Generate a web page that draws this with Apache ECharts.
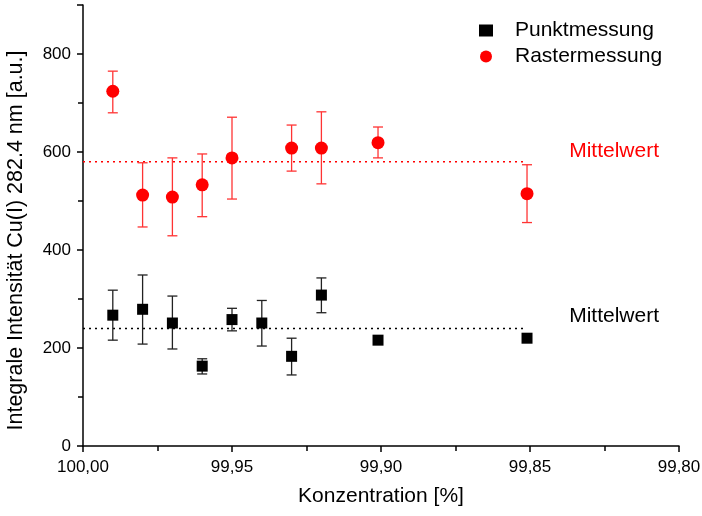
<!DOCTYPE html>
<html>
<head>
<meta charset="utf-8">
<script src="https://cdn.jsdelivr.net/npm/echarts@6/dist/echarts.min.js"></script>
<style>
html,body{margin:0;padding:0;background:#fff;}
#chart{width:702px;height:516px;}
</style>
</head>
<body>
<div id="chart"></div>
<script>
// Punktmessung (black squares)
let punktX=[99.99,99.98,99.97,99.96,99.95,99.94,99.93,99.92,99.901,99.851];
let punktY=[267,279,251,163,258,251,183,308,216,220];
let punktLow=[216,208,198,147,235,204,145,272,216,212];
let punktHigh=[318,349,306,178,281,297,220,343,216,227];
let punktMean=240;

// Rastermessung (red circles)
let rasterX=[99.99,99.98,99.97,99.96,99.95,99.93,99.92,99.901,99.851];
let rasterY=[724,512,508,533,588,608,608,619,515];
let rasterLow=[680,447,429,468,504,561,535,588,456];
let rasterHigh=[765,578,588,596,671,655,682,651,574];
let rasterMean=580;

let meanFrom=100.0,meanTo=99.851;

function pairs(xs,ys){
    let out=[];
    for(let i=0;i<xs.length;i++){out.push([xs[i],ys[i]]);}
    return out;
}
function errData(xs,lo,hi){
    let out=[];
    for(let i=0;i<xs.length;i++){out.push([xs[i],lo[i],hi[i]]);}
    return out;
}
function errRender(color){
    return function(params,api){
        let x=api.value(0);
        let lo=api.coord([x,api.value(1)]);
        let hi=api.coord([x,api.value(2)]);
        let w=5;
        let st={stroke:color,lineWidth:1.3};
        return {type:'group',children:[
            {type:'line',shape:{x1:lo[0],y1:lo[1],x2:hi[0],y2:hi[1]},style:st},
            {type:'line',shape:{x1:hi[0]-w,y1:hi[1],x2:hi[0]+w,y2:hi[1]},style:st},
            {type:'line',shape:{x1:lo[0]-w,y1:lo[1],x2:lo[0]+w,y2:lo[1]},style:st}
        ]};
    };
}
function meanSeries(val,color,dy){
    return {
        type:'line',
        data:[[meanFrom,val],[meanTo,val]],
        symbol:'none',
        silent:true,
        lineStyle:{color:color,width:1.5,type:[2,4]},
        endLabel:{show:true,formatter:'Mittelwert',color:color,fontSize:21,
            fontFamily:'Liberation Sans',offset:[140,dy]},
        z:1
    };
}

var myChart=echarts.init(document.getElementById('chart'));
var option={
    animation:false,
    textStyle:{fontFamily:'Liberation Sans'},
    grid:{left:83,right:23,top:5,bottom:70,outerBoundsMode:'none'},
    legend:{
        data:['Punktmessung','Rastermessung'],
        orient:'vertical',
        left:474,top:15,
        itemWidth:14,itemHeight:12,itemGap:5,
        textStyle:{fontSize:21,color:'#000',fontFamily:'Liberation Sans',padding:[0,0,0,17]}
    },
    xAxis:{
        type:'value',inverse:true,
        min:99.8,max:100.0,interval:0.05,
        name:'Konzentration [%]',nameLocation:'middle',nameGap:40,
        nameTextStyle:{fontSize:21,color:'#000'},
        axisLine:{lineStyle:{color:'#000',width:1.5}},
        axisTick:{length:6,lineStyle:{color:'#000',width:1.5}},
        minorTick:{show:true,splitNumber:2,length:5,lineStyle:{color:'#000',width:1.5}},
        axisLabel:{fontSize:17,color:'#000',margin:13,
            formatter:function(v){return v.toFixed(2).replace('.',',');}},
        splitLine:{show:false}
    },
    yAxis:{
        type:'value',min:0,max:900,interval:200,
        name:'Integrale Intensität Cu(I) 282.4 nm [a.u.]',nameLocation:'middle',nameGap:56,
        nameTextStyle:{fontSize:21.5,color:'#000',padding:[0,30,0,0]},
        axisLine:{show:true,lineStyle:{color:'#000',width:1.5}},
        axisTick:{show:true,length:6,lineStyle:{color:'#000',width:1.5}},
        minorTick:{show:true,splitNumber:2,length:5,lineStyle:{color:'#000',width:1.5}},
        axisLabel:{fontSize:17,color:'#000',margin:12,
            formatter:function(v){return v>800?'':String(v);}},
        splitLine:{show:false}
    },
    series:[
        meanSeries(punktMean,'#000',-12),
        meanSeries(rasterMean,'#ff0000',-11),
        {
            type:'custom',
            renderItem:errRender('#222'),
            data:errData(punktX,punktLow,punktHigh),
            silent:true,z:2
        },
        {
            type:'custom',
            renderItem:errRender('#f33'),
            data:errData(rasterX,rasterLow,rasterHigh),
            silent:true,z:2
        },
        {
            name:'Punktmessung',
            type:'scatter',
            symbol:'rect',symbolSize:11,
            itemStyle:{color:'#000',opacity:1},
            data:pairs(punktX,punktY),z:3
        },
        {
            name:'Rastermessung',
            type:'scatter',
            symbol:'circle',symbolSize:13,
            itemStyle:{color:'#ff0000',opacity:1},
            data:pairs(rasterX,rasterY),z:3
        }
    ]
};
myChart.setOption(option);
</script>
</body>
</html>
